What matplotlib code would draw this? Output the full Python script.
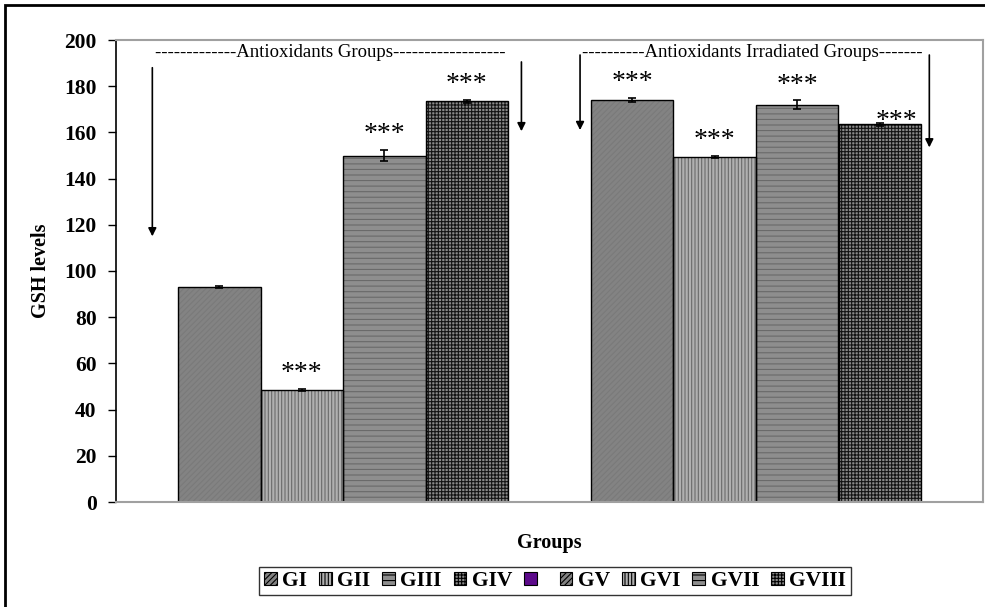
import matplotlib
matplotlib.use("Agg")
import matplotlib.pyplot as plt
from matplotlib.patches import Rectangle, Patch
import numpy as np

plt.rcParams['font.family'] = ['Liberation Serif', 'DejaVu Serif']
plt.rcParams['hatch.linewidth'] = 0.8

groups = ["GI", "GII", "GIII", "GIV", " ", "GV", "GVI", "GVII", "GVIII"]
values = [93.0, 48.5, 150.0, 173.5, 0.0, 174.0, 149.5, 172.0, 163.5]
errors = [0.5, 0.5, 2.5, 0.7, 0.0, 1.0, 0.5, 2.0, 0.6]
stars = ["", "***", "***", "***", "", "***", "***", "***", "***"]
group_titles = ["-------------Antioxidants Groups------------------",
                "----------Antioxidants Irradiated Groups-------"]

faces = ['#838383', '#b0b0b0', '#8e8e8e', '#8a8a8a', '#5c0a8a',
         '#838383', '#b0b0b0', '#8e8e8e', '#8a8a8a']
hatch_cols = ['#7a7a7a', '#6a6a6a', '#6a6a6a', '#141414', '#5c0a8a',
              '#7a7a7a', '#6a6a6a', '#6a6a6a', '#141414']
hatches = ['//////', '|||||', '---', '+++++', None,
           '//////', '|||||', '---', '+++++']
star_dx = [0, 0, 0, 0, 0, 0, 0, 0, 0.2]
star_dy = [0, 1, 1, 1, 0, 1, 1, 1, -5.0]

fig = plt.figure(figsize=(9.85, 6.07), dpi=100)
ax = fig.add_axes([116/985, 1-502/607, 867/985, 462/607])

x = np.arange(len(groups))
ax.bar(x, values, width=1.0, color=faces, edgecolor=hatch_cols,
       hatch=hatches, linewidth=0)
ax.bar(x, values, width=1.0, fill=False, edgecolor='black', linewidth=1.0)
ax.errorbar(x, values, yerr=errors, fmt='none', ecolor='black',
            elinewidth=1.2, capsize=3, capthick=1.2)

for i in range(len(groups)):
    if stars[i]:
        ax.text(x[i] + star_dx[i], values[i] + errors[i] + star_dy[i], stars[i],
                ha='center', va='bottom', fontsize=20)

ax.set_xlim(-1.25, 9.25)
ax.set_ylim(0, 200)
ax.set_yticks(np.arange(0, 201, 20))
ax.set_xticks([])
for lab in ax.get_yticklabels():
    lab.set_fontweight('bold')
ax.tick_params(axis='y', direction='out', length=6, width=1, labelsize=15.5, pad=8)

for s in ['top', 'right', 'bottom']:
    ax.spines[s].set_color('#a0a0a0')
    ax.spines[s].set_linewidth(1.5)
ax.spines['left'].set_color('black')
ax.spines['left'].set_linewidth(1.2)

ax.set_ylabel("GSH levels", fontsize=14.5, fontweight='bold')
ax.yaxis.set_label_coords(-0.075, 0.50)
ax.set_xlabel("Groups", fontsize=14.5, fontweight='bold')
ax.xaxis.set_label_coords(0.5, -0.067)

# group titles
ax.text(1.34, 194.8, group_titles[0], ha='center', va='center', fontsize=13.5)
ax.text(6.45, 194.8, group_titles[1], ha='center', va='center', fontsize=13.5)

arrow_kw = dict(arrowstyle='-|>', color='black', lw=1.2, mutation_scale=12,
                shrinkA=0, shrinkB=0)
for (ax_x, y0, y1) in [(-0.81, 188, 115), (3.66, 190.5, 160.5),
                       (4.37, 193.5, 161), (8.60, 193.5, 153.5)]:
    ax.annotate('', xy=(ax_x, y1), xytext=(ax_x, y0), arrowprops=arrow_kw,
                annotation_clip=False)

# legend
handles = []
for i in range(len(groups)):
    handles.append(Patch(facecolor=faces[i], edgecolor='black',
                         hatch=hatches[i], linewidth=0.8, label=groups[i]))
leg = fig.legend(handles=handles, loc='center', bbox_to_anchor=(555/985, 1-581/607),
                 ncol=9, frameon=True, fancybox=False, edgecolor='black',
                 prop={'weight': 'bold', 'size': 15.5}, handlelength=0.6,
                 handleheight=0.6, handletextpad=0.25, columnspacing=0.55,
                 borderpad=0.2, borderaxespad=0)
leg.get_frame().set_linewidth(1.0)

# outer border
fig.patches.append(Rectangle((5/985, -0.1), 1.2, 1 - 5/607 + 0.1,
                             transform=fig.transFigure, fill=False,
                             edgecolor='black', linewidth=2, zorder=10))

fig.savefig("out.png", dpi=100)
